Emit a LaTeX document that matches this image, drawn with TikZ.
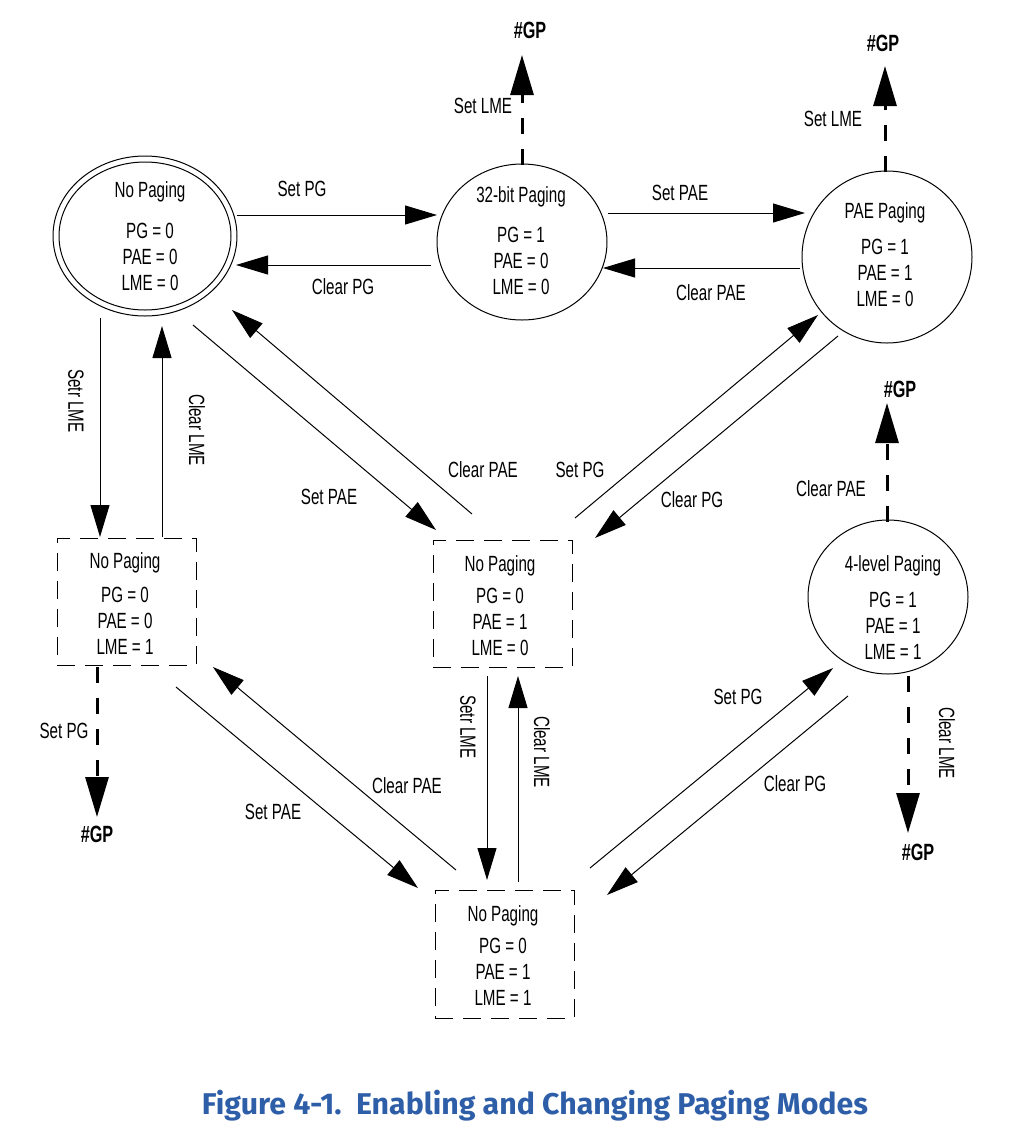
\documentclass[tikz,border=0pt]{standalone}
\usepackage{fontspec}
\setmainfont[FakeStretch=0.69]{Liberation Sans}
\newfontfamily\titlefont[FakeStretch=1.01]{Fira Sans}
\usetikzlibrary{shapes.geometric,arrows.meta}
\definecolor{figblue}{RGB}{46,94,168}
\tikzset{
  every node/.style={inner sep=0pt, font=\fontsize{22}{26}\selectfont},
  state/.style={draw, ellipse, line width=1pt},
  dbox/.style={draw, rectangle, line width=0.9pt, dash pattern=on 18pt off 10pt},
  stxt/.style={align=center},
  lbl/.style={},
  vlbl/.style={rotate=-90},
  gp/.style={font=\fontsize{23.5}{26}\selectfont\bfseries},
  conn/.style={line width=1pt, -{Triangle[length=32pt,width=19pt]}},
  gpconn/.style={line width=3pt, dash pattern=on 16pt off 15pt, -{Triangle[length=40pt,width=23pt]}},
}
\begin{document}
\begin{tikzpicture}[x=1pt,y=-1pt]
\useasboundingbox (0,0) rectangle (1010,1144);
% states
\node[state, minimum width=184pt, minimum height=160pt] (e1o) at (145,236) {};
\node[state, minimum width=172pt, minimum height=148pt] (e1i) at (145,236) {};
\node[state, minimum width=170pt, minimum height=156pt] (e2) at (522,242) {};
\node[state, minimum width=170pt, minimum height=172pt] (e3) at (887,257) {};
\node[state, minimum width=160pt, minimum height=154pt] (e4) at (888,597) {};
\node[dbox, minimum width=139pt, minimum height=127pt] (b1) at (126.5,601.5) {};
\node[dbox, minimum width=139pt, minimum height=127pt] (b2) at (502.5,603.5) {};
\node[dbox, minimum width=139pt, minimum height=128pt] (b3) at (504.5,954) {};
% state texts
\node[stxt] (t1) at (150,236) {No Paging\\[15pt] PG = 0\\ PAE = 0\\ LME = 0};
\node[stxt] (t2) at (521,241) {32-bit Paging\\[14pt] PG = 1\\ PAE = 0\\ LME = 0};
\node[stxt] (t3) at (885,255) {PAE Paging\\[10pt] PG = 1\\ PAE = 1\\ LME = 0};
\node[stxt] (t4) at (893,608) {4-level Paging\\[10pt] PG = 1\\ PAE = 1\\ LME = 1};
\node[stxt] (t5) at (125,604) {No Paging\\[8pt] PG = 0\\ PAE = 0\\ LME = 1};
\node[stxt] (t6) at (500,606) {No Paging\\[6pt] PG = 0\\ PAE = 1\\ LME = 0};
\node[stxt] (t7) at (503,956) {No Paging\\[6pt] PG = 0\\ PAE = 1\\ LME = 1};
% #GP targets
\node[gp] (gp1) at (530,30) {\#GP};
\node[gp] (gp2) at (883,43) {\#GP};
\node[gp] (gp3) at (900,389) {\#GP};
\node[gp] (gp4) at (918,852) {\#GP};
\node[gp] (gp5) at (97,834) {\#GP};
% connector end points
\coordinate (a1s) at (237,215); \coordinate (a1e) at (437,215);
\coordinate (a2s) at (431,265); \coordinate (a2e) at (236,265);
\coordinate (a3s) at (608,213); \coordinate (a3e) at (805,213);
\coordinate (a4s) at (800,268); \coordinate (a4e) at (603,268);
\coordinate (a5s) at (100,318); \coordinate (a5e) at (100,537);
\coordinate (a6s) at (162,537); \coordinate (a6e) at (162,326);
\coordinate (a7s) at (193,325); \coordinate (a7e) at (436,530);
\coordinate (a8s) at (472,514); \coordinate (a8e) at (232,310);
\coordinate (a9s) at (575,518); \coordinate (a9e) at (818,315);
\coordinate (a10s) at (838,336); \coordinate (a10e) at (595,538);
\coordinate (a11s) at (487,676); \coordinate (a11e) at (487,880);
\coordinate (a12s) at (518,882); \coordinate (a12e) at (518,676);
\coordinate (a13s) at (176,687); \coordinate (a13e) at (418,888);
\coordinate (a14s) at (456,870); \coordinate (a14e) at (213,667);
\coordinate (a15s) at (590,868); \coordinate (a15e) at (833,668);
\coordinate (a16s) at (848,696); \coordinate (a16e) at (607,895);
\coordinate (g1s) at (522,165); \coordinate (g1e) at (522,55);
\coordinate (g2s) at (885,172); \coordinate (g2e) at (885,66);
\coordinate (g3s) at (887,522); \coordinate (g3e) at (887,403);
\coordinate (g4s) at (908,676); \coordinate (g4e) at (908,833);
\coordinate (g5s) at (97,667); \coordinate (g5e) at (97,817);
% connectors
\draw[conn] (a1s) -- (a1e);
\draw[conn] (a2s) -- (a2e);
\draw[conn] (a3s) -- (a3e);
\draw[conn] (a4s) -- (a4e);
\draw[conn] (a5s) -- (a5e);
\draw[conn] (a6s) -- (a6e);
\draw[conn] (a7s) -- (a7e);
\draw[conn] (a8s) -- (a8e);
\draw[conn] (a9s) -- (a9e);
\draw[conn] (a10s) -- (a10e);
\draw[conn] (a11s) -- (a11e);
\draw[conn] (a12s) -- (a12e);
\draw[conn] (a13s) -- (a13e);
\draw[conn] (a14s) -- (a14e);
\draw[conn] (a15s) -- (a15e);
\draw[conn] (a16s) -- (a16e);
\draw[gpconn] (g1s) -- (g1e);
\draw[gpconn] (g2s) -- (g2e);
\draw[gpconn] (g3s) -- (g3e);
\draw[gpconn] (g4s) -- (g4e);
\draw[gpconn] (g5s) -- (g5e);
% labels
\node[lbl] (l1) at (302,189) {Set PG};
\node[lbl] (l2) at (343,287) {Clear PG};
\node[lbl] (l3) at (680,193) {Set PAE};
\node[lbl] (l4) at (711,293) {Clear PAE};
\node[lbl] (l5) at (483,106) {Set LME};
\node[lbl] (l6) at (833,119) {Set LME};
\node[lbl] (l7) at (831,489) {Clear PAE};
\node[vlbl] (l8) at (947,743) {Clear LME};
\node[lbl] (l9) at (64,731) {Set PG};
\node[vlbl] (l10) at (76,401) {Setr LME};
\node[vlbl] (l11) at (197,430) {Clear LME};
\node[lbl] (l12) at (329,497) {Set PAE};
\node[lbl] (l13) at (483,470) {Clear PAE};
\node[lbl] (l14) at (580,470) {Set PG};
\node[lbl] (l15) at (692,500) {Clear PG};
\node[vlbl] (l16) at (468,727) {Setr LME};
\node[vlbl] (l17) at (542,752) {Clear LME};
\node[lbl] (l18) at (407,786) {Clear PAE};
\node[lbl] (l19) at (273,812) {Set PAE};
\node[lbl] (l20) at (738,697) {Set PG};
\node[lbl] (l21) at (795,784) {Clear PG};
% caption
\node[font=\titlefont\fontsize{30}{34}\selectfont\bfseries, text=figblue] (cap) at (535,1106) {Figure 4-1.\ \ Enabling and Changing Paging Modes};
\end{tikzpicture}
\end{document}
